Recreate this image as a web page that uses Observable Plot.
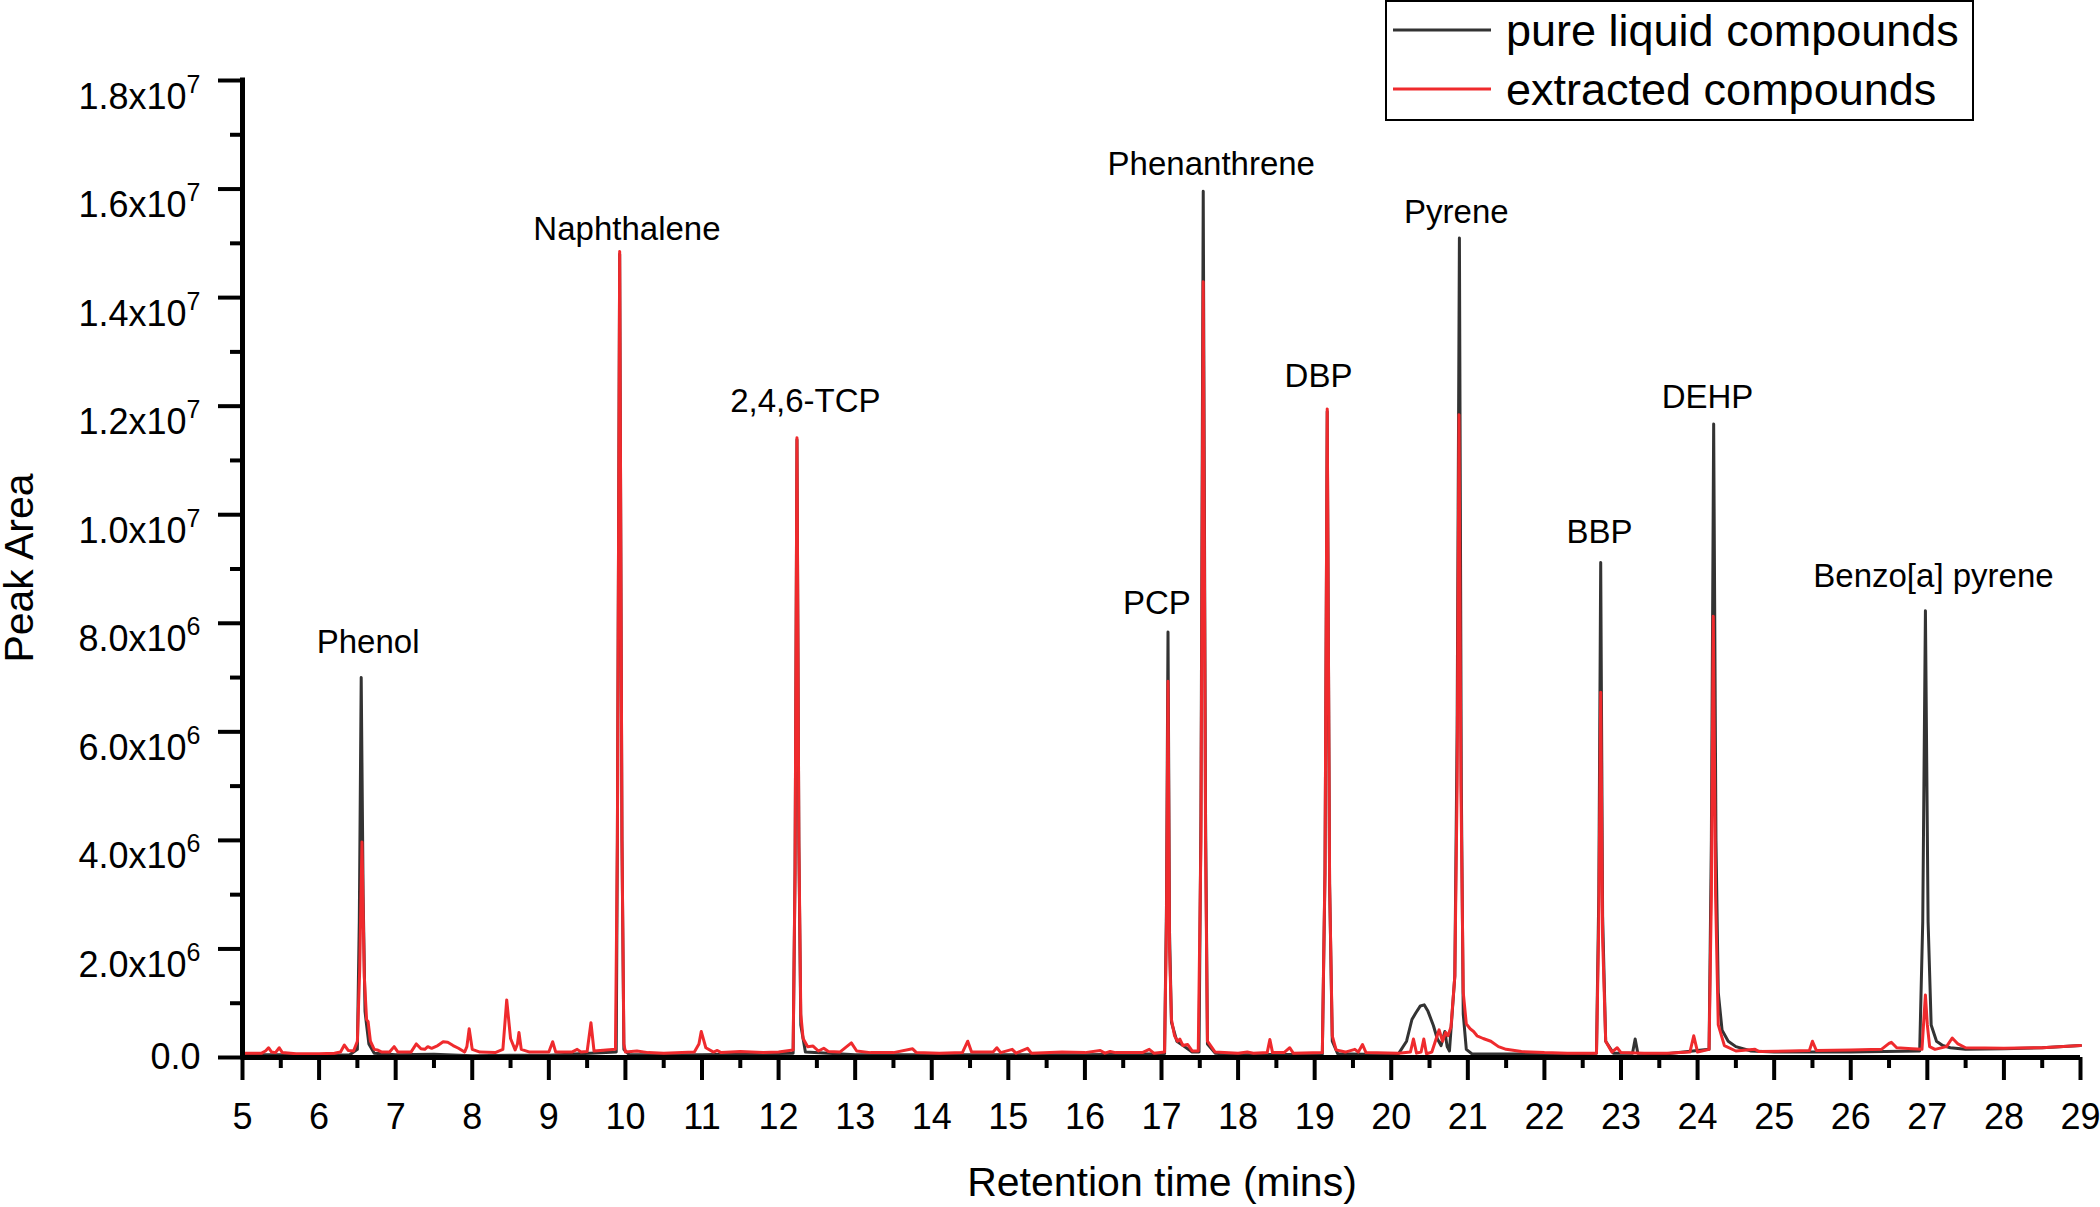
<!DOCTYPE html>
<html>
<head>
<meta charset="utf-8">
<script src="https://cdn.jsdelivr.net/npm/d3@7"></script>
<script src="https://cdn.jsdelivr.net/npm/@observablehq/plot@0.6"></script>
<style>
html, body { margin: 0; padding: 0; background: #fff; }
#chart { width: 2100px; height: 1207px; }
</style>
</head>
<body>
<div id="chart"></div>
<script>
// ---- data (retention time in min, peak area in units of 1e6) ----
const pureLiquid = [
  [5.00,0.05],[5.50,0.05],[6.00,0.04],[6.40,0.05],[6.50,0.15],[6.525,2.5],[6.55,7.0],[6.575,3.0],
  [6.60,0.85],[6.62,0.6],[6.65,0.25],[6.72,0.08],[7.00,0.05],[7.50,0.06],[8.00,0.03],[8.50,0.04],
  [9.00,0.04],[9.88,0.1],[9.895,4.0],[9.925,14.8],[9.955,4.0],[9.98,0.15],[10.05,0.05],[11.00,0.05],
  [12.19,0.08],[12.215,3.4],[12.24,11.38],[12.265,3.9],[12.29,0.6],[12.35,0.1],[13.00,0.05],
  [14.00,0.05],[15.00,0.05],[16.00,0.05],[17.04,0.07],[17.065,2.8],[17.085,7.84],[17.105,2.3],
  [17.13,0.65],[17.20,0.3],[17.30,0.2],[17.40,0.1],[17.49,0.1],[17.515,4.5],[17.545,15.96],
  [17.575,4.5],[17.60,0.25],[17.70,0.08],[18.00,0.05],[19.10,0.06],[19.135,3.4],[19.164,11.9],
  [19.195,3.2],[19.23,0.3],[19.30,0.07],[20.00,0.05],[20.10,0.08],[20.20,0.30],[20.27,0.70],
  [20.32,0.82],[20.38,0.95],[20.43,0.97],[20.48,0.85],[20.55,0.59],[20.60,0.35],[20.65,0.22],
  [20.70,0.48],[20.73,0.2],[20.76,0.12],[20.83,1.5],[20.86,6.0],[20.89,15.1],[20.915,5.0],
  [20.94,0.8],[20.98,0.15],[21.05,0.07],[22.00,0.06],[22.68,0.08],[22.71,3.0],[22.735,9.12],
  [22.76,2.6],[22.80,0.3],[22.90,0.08],[23.15,0.08],[23.185,0.34],[23.22,0.08],[23.60,0.07],
  [24.15,0.15],[24.18,4.0],[24.21,11.67],[24.24,4.0],[24.27,1.2],[24.32,0.5],[24.40,0.30],
  [24.50,0.20],[24.70,0.12],[25.00,0.10],[26.00,0.10],[26.90,0.12],[26.94,2.5],[26.975,8.23],
  [27.01,2.5],[27.05,0.6],[27.12,0.30],[27.20,0.22],[27.30,0.18],[27.50,0.15],[28.00,0.16],
  [28.50,0.18],[29.00,0.22]
];
const extracted = [
  [5.00,0.08],[5.25,0.08],[5.30,0.12],[5.34,0.18],[5.38,0.10],[5.43,0.09],[5.48,0.18],[5.52,0.09],
  [5.70,0.07],[6.00,0.07],[6.20,0.08],[6.28,0.10],[6.33,0.23],[6.38,0.13],[6.45,0.12],[6.50,0.30],
  [6.53,1.60],[6.56,3.97],[6.59,1.50],[6.62,0.70],[6.64,0.66],[6.67,0.30],[6.72,0.15],[6.76,0.14],
  [6.82,0.10],[6.92,0.10],[6.98,0.20],[7.03,0.10],[7.20,0.10],[7.27,0.25],[7.33,0.16],[7.38,0.15],
  [7.42,0.20],[7.47,0.17],[7.55,0.22],[7.62,0.29],[7.68,0.28],[7.75,0.22],[7.82,0.17],[7.90,0.10],
  [7.93,0.20],[7.96,0.53],[8.00,0.15],[8.10,0.10],[8.30,0.09],[8.40,0.15],[8.45,1.06],[8.50,0.35],
  [8.56,0.14],[8.59,0.25],[8.61,0.46],[8.64,0.15],[8.75,0.10],[9.00,0.10],[9.05,0.29],[9.09,0.10],
  [9.30,0.10],[9.37,0.15],[9.42,0.10],[9.50,0.11],[9.55,0.64],[9.59,0.12],[9.87,0.15],[9.895,4.0],
  [9.925,14.85],[9.955,4.0],[9.98,0.25],[10.00,0.10],[10.15,0.12],[10.30,0.09],[10.50,0.08],
  [10.90,0.10],[10.96,0.25],[10.99,0.48],[11.05,0.18],[11.15,0.10],[11.20,0.13],[11.25,0.09],
  [11.50,0.11],[11.80,0.09],[12.00,0.10],[12.19,0.14],[12.215,3.5],[12.24,11.42],[12.265,4.0],
  [12.29,0.8],[12.32,0.35],[12.38,0.2],[12.45,0.21],[12.52,0.12],[12.59,0.17],[12.65,0.11],
  [12.80,0.10],[12.95,0.27],[13.02,0.12],[13.20,0.09],[13.50,0.09],[13.75,0.16],[13.80,0.09],
  [14.10,0.08],[14.40,0.09],[14.47,0.30],[14.52,0.10],[14.80,0.10],[14.85,0.18],[14.90,0.09],
  [15.05,0.15],[15.10,0.08],[15.25,0.17],[15.30,0.08],[15.70,0.10],[16.00,0.09],[16.20,0.13],
  [16.26,0.08],[16.33,0.11],[16.40,0.09],[16.75,0.09],[16.84,0.15],[16.90,0.08],[17.04,0.10],
  [17.065,2.5],[17.085,6.93],[17.105,2.0],[17.13,0.70],[17.17,0.40],[17.21,0.30],[17.24,0.34],
  [17.28,0.22],[17.34,0.24],[17.40,0.12],[17.48,0.12],[17.515,4.0],[17.545,14.29],[17.575,4.0],
  [17.60,0.30],[17.70,0.10],[18.00,0.08],[18.12,0.10],[18.20,0.08],[18.38,0.09],[18.415,0.33],
  [18.45,0.09],[18.60,0.09],[18.675,0.18],[18.72,0.08],[19.10,0.09],[19.135,3.5],[19.164,11.95],
  [19.195,3.2],[19.23,0.40],[19.28,0.14],[19.40,0.10],[19.525,0.15],[19.57,0.10],[19.625,0.24],
  [19.67,0.09],[20.10,0.08],[20.25,0.10],[20.29,0.34],[20.33,0.08],[20.39,0.10],[20.425,0.34],
  [20.46,0.07],[20.53,0.10],[20.625,0.51],[20.67,0.30],[20.71,0.46],[20.74,0.40],[20.78,0.56],
  [20.83,1.5],[20.86,5.0],[20.885,11.84],[20.91,5.0],[20.94,1.2],[20.98,0.62],[21.03,0.53],
  [21.075,0.48],[21.12,0.40],[21.20,0.35],[21.30,0.30],[21.40,0.20],[21.50,0.15],[21.70,0.11],
  [22.00,0.09],[22.30,0.08],[22.68,0.08],[22.71,2.5],[22.735,6.73],[22.76,2.2],[22.80,0.3],
  [22.88,0.10],[22.95,0.18],[23.00,0.09],[23.30,0.08],[23.60,0.08],[23.90,0.10],[23.95,0.40],
  [24.00,0.10],[24.15,0.15],[24.18,3.0],[24.205,8.13],[24.235,3.0],[24.27,0.60],[24.35,0.22],
  [24.50,0.12],[24.75,0.15],[24.80,0.11],[25.20,0.12],[25.46,0.13],[25.50,0.30],[25.55,0.13],
  [26.00,0.14],[26.40,0.15],[26.50,0.26],[26.53,0.28],[26.60,0.18],[26.80,0.16],[26.93,0.15],
  [26.95,0.6],[26.975,1.15],[27.00,0.6],[27.03,0.2],[27.10,0.15],[27.25,0.2],[27.325,0.36],
  [27.40,0.25],[27.50,0.18],[28.00,0.17],[28.50,0.18],[29.00,0.22]
];

const seriesNames = ["pure liquid compounds", "extracted compounds"];
const seriesColors = ["#333333", "#ef2a2d"];

const peakNames = ["Phenol","Naphthalene","2,4,6-TCP","PCP","Phenanthrene","DBP","Pyrene","BBP","DEHP","Benzo[a] pyrene"];
const labelTime = [6.64, 10.02, 12.35, 16.94, 17.65, 19.05, 20.85, 22.72, 24.13, 27.08];
const labelArea = [7.45, 15.06, 11.9, 8.18, 16.25, 12.36, 15.37, 9.47, 11.96, 8.66];

const xTicks = [5,6,7,8,9,10,11,12,13,14,15,16,17,18,19,20,21,22,23,24,25,26,27,28,29];
const xMinorTicks = [5.5,6.5,7.5,8.5,9.5,10.5,11.5,12.5,13.5,14.5,15.5,16.5,17.5,18.5,19.5,20.5,21.5,22.5,23.5,24.5,25.5,26.5,27.5,28.5];
const yTicks = [0,2e6,4e6,6e6,8e6,1e7,1.2e7,1.4e7,1.6e7,1.8e7];
const yTickLabels = ["0.0","2.0x10|6","4.0x10|6","6.0x10|6","8.0x10|6","1.0x10|7","1.2x10|7","1.4x10|7","1.6x10|7","1.8x10|7"];
const yMinorTicks = [1e6,3e6,5e6,7e6,9e6,1.1e7,1.3e7,1.5e7,1.7e7];

const xTitle = "Retention time (mins)";
const yTitle = "Peak Area";

// ---- build tables ----
const toRows = (arr, s) => arr.map(([t, v]) => ({t, v: v * 1e6, s}));
const pureRows = toRows(pureLiquid, seriesNames[0]);
const extRows = toRows(extracted, seriesNames[1]);
const labels = peakNames.map((name, i) => ({name, t: labelTime[i], v: labelArea[i] * 1e6}));
const yFmt = d => yTickLabels[yTicks.indexOf(d)];

const FONT = "'Liberation Sans', Arial, Helvetica, sans-serif";

const svg = Plot.plot({
  width: 2100,
  height: 1207,
  marginLeft: 242,
  marginRight: 20,
  marginTop: 80,
  marginBottom: 150,
  x: {domain: [5, 29], axis: null},
  y: {domain: [0, 1.8e7], axis: null},
  style: {fontFamily: FONT, fontSize: "36px", color: "#000", background: "#fff", overflow: "visible"},
  marks: [
    Plot.axisX({ticks: xTicks, tickSize: 23, tickPadding: 23, strokeWidth: 4, tickFormat: d => String(d), label: null, fontSize: 36}),
    Plot.axisX({ticks: xMinorTicks, tickSize: 11, strokeWidth: 4, tickFormat: () => "", label: null}),
    Plot.axisY({ticks: yTicks, tickSize: 24, tickPadding: 18, strokeWidth: 4, tickFormat: yFmt, label: null, fontSize: 36}),
    Plot.axisY({ticks: yMinorTicks, tickSize: 12, strokeWidth: 4, tickFormat: () => "", label: null}),
    Plot.line(pureRows, {x: "t", y: "v", stroke: seriesColors[0], strokeWidth: 3, strokeLinejoin: "round"}),
    Plot.line(extRows, {x: "t", y: "v", stroke: seriesColors[1], strokeWidth: 3, strokeLinejoin: "round"}),
    Plot.ruleY([0], {strokeWidth: 5, stroke: "#000"}),
    Plot.ruleX([5], {y1: 0, y2: 1.8e7, strokeWidth: 5, stroke: "#000", strokeLinecap: "square"}),
    Plot.text(labels, {x: "t", y: "v", text: "name", fontSize: 33, lineAnchor: "bottom", textAnchor: "middle", fill: "#000"})
  ]
});

document.getElementById("chart").appendChild(svg);

// superscript exponents on y tick labels
const S = d3.select(svg);
S.selectAll('g[aria-label="y-axis tick label"] text').each(function() {
  const s = this.textContent;
  if (s.includes("|")) {
    const [m, e] = s.split("|");
    this.textContent = "";
    const el = d3.select(this).attr("dy", "0.46em");
    el.append("tspan").text(m);
    el.append("tspan").attr("font-size", 25).attr("dy", -16).text(e);
  }
});

// axis titles
S.append("text").attr("x", 1162).attr("y", 1196).attr("text-anchor", "middle")
  .attr("font-size", 41).attr("font-family", FONT).attr("fill", "#000").text(xTitle);
S.append("text").attr("transform", "translate(33,568) rotate(-90)").attr("text-anchor", "middle")
  .attr("font-size", 41).attr("font-family", FONT).attr("fill", "#000").text(yTitle);

// legend
const lg = S.append("g").attr("font-family", FONT).attr("text-anchor", "start");
lg.append("rect").attr("x", 1386).attr("y", 1).attr("width", 587).attr("height", 119)
  .attr("fill", "#fff").attr("stroke", "#000").attr("stroke-width", 2);
seriesNames.forEach((name, i) => {
  const yy = [30, 89][i];
  lg.append("line").attr("x1", 1393).attr("x2", 1491).attr("y1", yy).attr("y2", yy)
    .attr("stroke", seriesColors[i]).attr("stroke-width", 3);
  lg.append("text").attr("x", 1506).attr("y", [46, 105][i]).attr("font-size", 45)
    .attr("text-anchor", "start").attr("fill", "#000").text(name);
});
</script>
</body>
</html>
